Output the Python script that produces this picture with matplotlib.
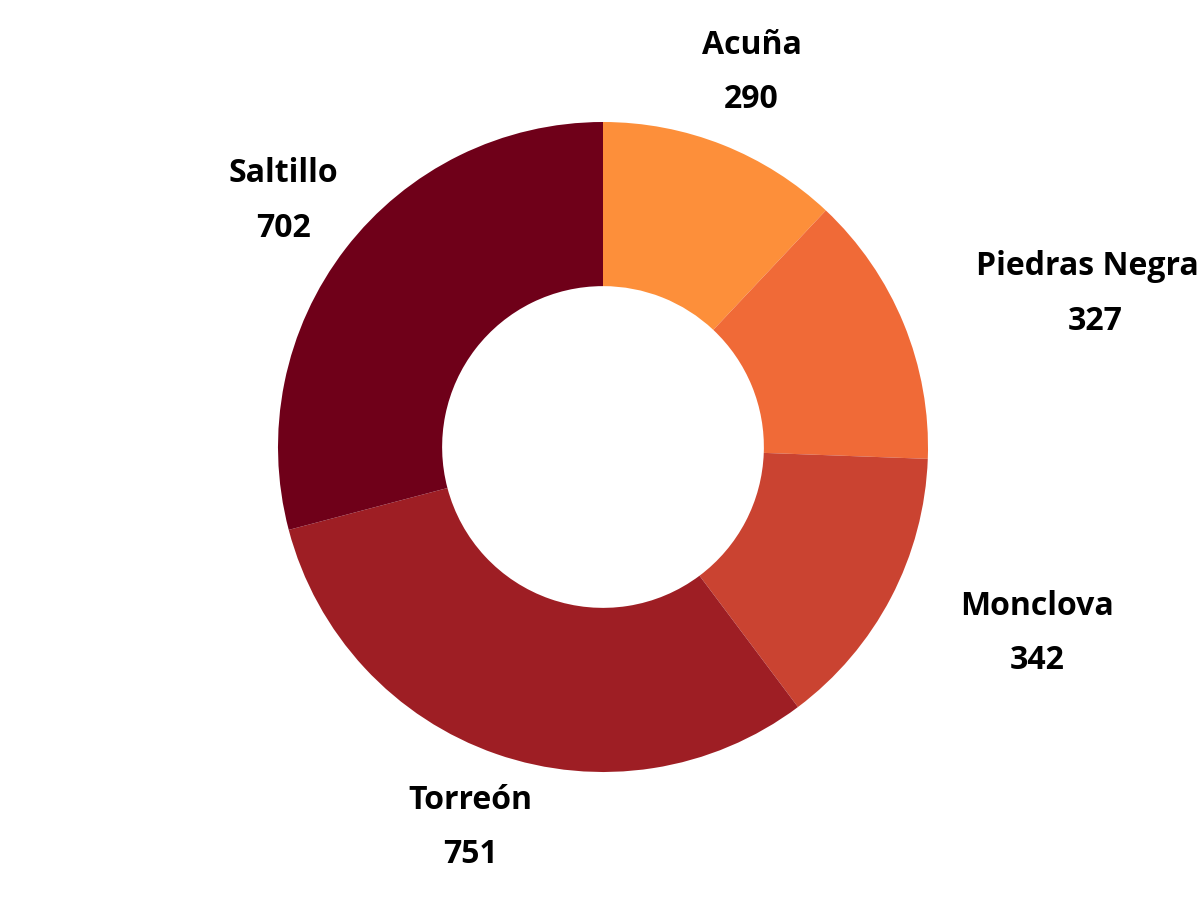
import numpy as np
from matplotlib import pyplot as plt

# data
cities = ["Acuña", "Piedras Negras", "Monclova", "Torreón", "Saltillo"]
counts = [290, 327, 342, 751, 702]
colors = ["#FD8F3A", "#F06A37", "#CA4331", "#9E1E24", "#6F0019"]

plt.rcParams['font.family'] = ['Open Sans', 'DejaVu Sans']

fig = plt.figure(figsize=(12, 9), dpi=100)
ax = fig.add_axes([0, 0, 1, 1])

# donut, clockwise from the top
wedges, _ = ax.pie(counts, colors=colors, startangle=90, counterclock=False,
                   radius=1.0, wedgeprops=dict(width=0.505, linewidth=0))

# labels: name and value, placed outside each slice
for w, name, val in zip(wedges, cities, counts):
    ang = np.deg2rad((w.theta1 + w.theta2) / 2)
    x = 1.24 * np.cos(ang)
    y = 1.24 * np.sin(ang)
    c = np.cos(ang)
    if c > 0.85:
        ha = "left"
    elif c < -0.85:
        ha = "right"
    else:
        ha = "center"
    ax.text(x, y, name + "\n" + str(val), ha=ha, va="center",
            multialignment="center", fontsize=23, fontweight="bold",
            linespacing=1.85, color="black")

# keep pixel scale: radius 1 -> 325 px, centre at (603, 447)
ax.set_xlim(-603 / 325, (1200 - 603) / 325)
ax.set_ylim(-453 / 325, 447 / 325)
ax.set_aspect("auto")
ax.axis("off")

plt.savefig("out.png", dpi=100)
